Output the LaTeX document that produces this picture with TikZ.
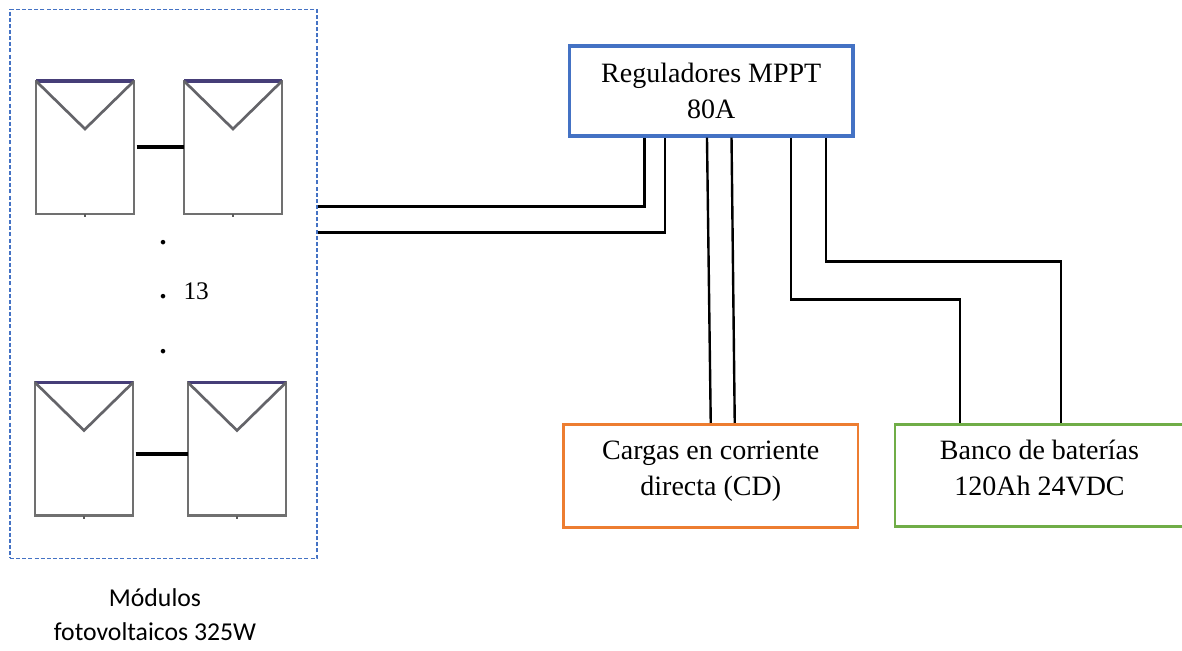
\documentclass[tikz,border=0pt]{standalone}
\usepackage{fontspec}
\setmainfont{Liberation Serif}
\newfontfamily\calibrifont{Carlito}

\tikzset{every picture/.style={line width=0.75pt}}
\tikzset{
  modulo/.style={draw={rgb,255:red,112;green,112;blue,112},line width=2.2pt,minimum width=73.5pt,minimum height=99.75pt,inner sep=0pt,outer sep=0pt},
  techo/.style={draw={rgb,255:red,70;green,62;blue,120},line width=2.4pt},
  vee/.style={draw={rgb,255:red,100;green,100;blue,105},line width=2pt},
  marca/.style={draw={rgb,255:red,90;green,90;blue,90},line width=1.2pt},
  enlace/.style={draw=black,line width=3pt},
  cable/.style={draw=black,line width=1.8pt},
  caja/.style={line width=1.9pt,align=center,inner sep=0pt,font=\fontsize{21}{27}\selectfont},
  punto/.style={anchor=base,inner sep=0pt,font=\bfseries\fontsize{21}{27}\selectfont}
}

\begin{document}
\begin{tikzpicture}[x=0.75pt,y=0.75pt,yscale=-1,xscale=1]
\useasboundingbox (0,0) rectangle (1182,650);

%Shape: Rectangle dashed frame
\node (marco) at (163.5,283.75) [draw={rgb,255:red,68;green,114;blue,196},dashed,dash pattern=on 3pt off 1.6pt,line width=0.8pt,minimum width=230.25pt,minimum height=411.75pt,inner sep=0pt] {};

%Shape: Modules upper row
\node (pvA) at (85,147.5) [modulo] {};
\node (pvB) at (233,147.5) [modulo] {};
%Shape: Modules lower row
\node (pvC) at (84,449) [modulo] {};
\node (pvD) at (237,449) [modulo] {};

%Straight Lines tops of the modules
\draw [techo] (pvA.north west) -- (pvA.north east);
\draw [techo] (pvB.north west) -- (pvB.north east);
\draw [techo] (pvC.north west) -- (pvC.north east);
\draw [techo] (pvD.north west) -- (pvD.north east);
%Straight Lines the V of each module
\draw [vee] (pvA.north west) -- ([yshift=36pt]pvA.north) -- (pvA.north east);
\draw [vee] (pvB.north west) -- ([yshift=36pt]pvB.north) -- (pvB.north east);
\draw [vee] (pvC.north west) -- ([yshift=36pt]pvC.north) -- (pvC.north east);
\draw [vee] (pvD.north west) -- ([yshift=36pt]pvD.north) -- (pvD.north east);
%Straight Lines small terminals
\draw [marca] (pvA.south) -- ++(0,3);
\draw [marca] (pvB.south) -- ++(0,3);
\draw [marca] (pvC.south) -- ++(0,3);
\draw [marca] (pvD.south) -- ++(0,3);
%Straight Lines module links
\draw [enlace] ([yshift=-0.4pt,xshift=2pt]pvA.east) -- ([yshift=-0.4pt]pvB.west);
\draw [enlace] ([yshift=3.4pt,xshift=2pt]pvC.east) -- ([yshift=3.4pt]pvD.west);

%Shape: Rectangle
\node (reguladores) at (711.25,91) [caja,draw={rgb,255:red,68;green,114;blue,196},line width=2.4pt,minimum width=212.6pt,minimum height=67.5pt] {Reguladores MPPT\\80A};
%Shape: Rectangle
\node (cargas) at (710.75,475.75) [caja,draw={rgb,255:red,237;green,125;blue,49},minimum width=221.1pt,minimum height=77.25pt,text depth=11pt] {Cargas en corriente\\directa (CD)};
%Shape: Rectangle
\node (banco) at (1039.5,475.25) [caja,draw={rgb,255:red,112;green,173;blue,71},minimum width=216.75pt,minimum height=76.5pt,text depth=11pt] {Banco de baterías\\120Ah 24VDC};

%Straight Lines
\draw [cable] ([yshift=-57.94pt]marco.east) -| ([xshift=-50.06pt]reguladores.south);
%Straight Lines
\draw [cable] ([yshift=-38.44pt]marco.east) -| ([xshift=-34.7pt]reguladores.south);
%Straight Lines
\draw [cable] ([xshift=-3.2pt]reguladores.south) -- (cargas.north);
%Straight Lines
\draw [cable] ([xshift=15.2pt]reguladores.south) -- ([xshift=18pt]cargas.north);
%Straight Lines
\draw [cable] ([xshift=59.8pt]reguladores.south) -- ++(0,162) -| ([xshift=-59.6pt]banco.north);
%Straight Lines
\draw [cable] ([xshift=86.06pt]reguladores.south) -- ++(0,124) -| ([xshift=16.1pt]banco.north);

% Text Node
\node (dotA) at (163,244) [punto] {.};
% Text Node
\node (dotB) at (163,298) [punto] {.};
% Text Node
\node (dotC) at (163,353) [punto] {.};
% Text Node
\node (trece) at (183,299) [anchor=base west,inner sep=0pt,font=\fontsize{19}{24}\selectfont] {13};
% Text Node
\node (rotulo) at (155,615) [align=center,inner sep=0pt,font=\calibrifont\fontsize{19.3}{25.5}\selectfont] {Módulos\\fotovoltaicos 325W};

\end{tikzpicture}
\end{document}
